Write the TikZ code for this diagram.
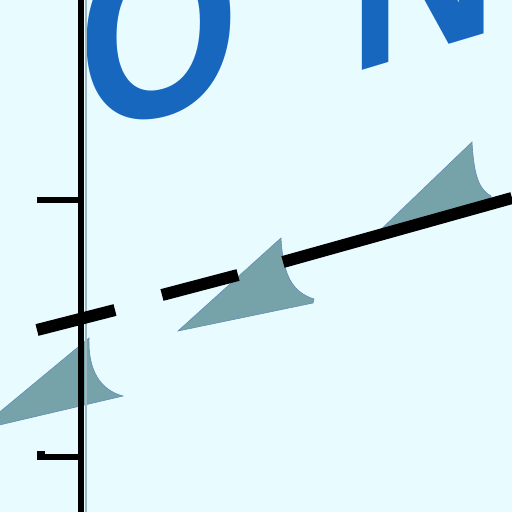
\documentclass[tikz,border=0pt]{standalone}
\usepackage{fontspec}
\setmainfont{Liberation Sans}
\definecolor{bgcyan}{HTML}{E8FCFF}
\definecolor{finteal}{HTML}{76A3A9}
\definecolor{letterblue}{HTML}{1767BF}
\definecolor{edgegray}{HTML}{9DB8C0}
\tikzset{
  fin/.style={fill=finteal, draw=finteal!85!blue, line width=0.6pt},
  frontseg/.style={line width=12pt, black, line cap=butt},
  axisline/.style={line width=6pt, black},
  tickline/.style={line width=6pt, black, line cap=butt},
  bigletter/.style={text=letterblue, inner sep=0pt, font=\bfseries\fontsize{207}{207}\selectfont}
}
\begin{document}
\begin{tikzpicture}[x=1pt,y=-1pt]
\useasboundingbox (0,0) rectangle (512,512);
\fill[bgcyan] (0,0) rectangle (512,512);
\begin{scope}
\clip (0,0) rectangle (512,512);
% letters
\node[bigletter, yscale=1.2, yslant=0.15, anchor=south] (lo) at (159,119) {O};
\node[bigletter, yscale=1.2, yslant=0.25, anchor=south] (ln) at (423,52) {N};
% fins
\fill[fin] (472,142) .. controls (474,178) and (480,190) .. (491,196) -- (491,206) -- (372,238) -- cycle;
\fill[fin] (281,238) .. controls (283,275) and (292,292) .. (314,299) -- (313,303) -- (178,331) -- cycle;
\fill[fin] (89,338) .. controls (88,370) and (100,390) .. (123,396) -- (-22,430) -- cycle;
% axis
\draw[edgegray, line width=2pt] (85.5,0) -- (85.5,512);
\draw[axisline] (81,0) -- (81,512);
\draw[tickline] (37,200) -- (81,200);
\draw[tickline] (37,457) -- (81,457);
\fill[black] (37,451) rectangle (45,457);
% front
\draw[frontseg] (37,330) -- (115,310);
\draw[frontseg] (162,295) -- (238,275);
\draw[frontseg] (283,262) -- (512,198);
\end{scope}
\end{tikzpicture}
\end{document}
